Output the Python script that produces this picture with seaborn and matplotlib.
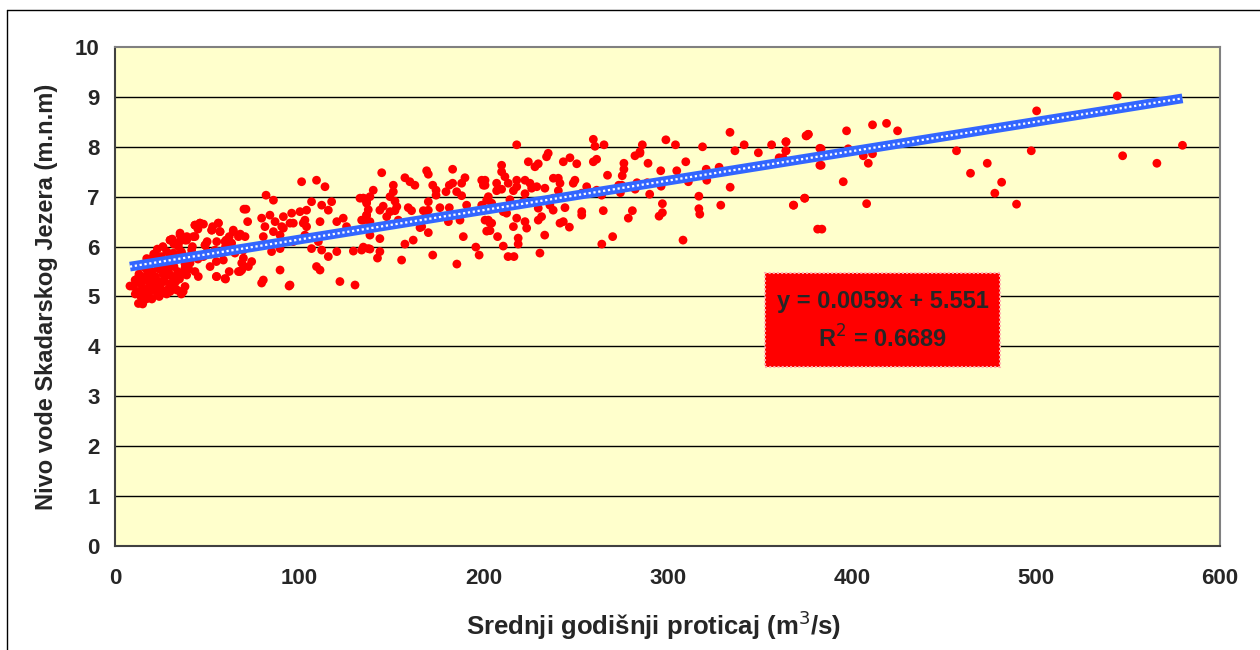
import numpy as np
import pandas as pd
import matplotlib.pyplot as plt
import seaborn as sns
from matplotlib.patches import Rectangle
from matplotlib.lines import Line2D

# Mean annual discharge (m3/s) and lake level (m.n.m)
protok = [
    8.1, 12.7, 15.4, 17.2, 13.6, 18.1, 17.2, 21.7, 19.9, 23.5, 25.3, 27.1, 29.9, 33.5, 35.3,
    29.0, 31.7, 29.9, 35.3, 38.0, 34.4, 38.9, 38.0, 40.7, 43.4, 45.2, 43.4, 46.1, 43.4, 48.9,
    48.0, 51.6, 55.2, 59.7, 58.8, 52.5, 56.1, 55.2, 59.7, 64.2, 63.3, 67.9, 68.8, 65.1, 54.3,
    36.2, 41.6, 27.1, 21.7, 10.9, 14.5, 18.1, 23.5, 32.6, 29.9,
    10, 12, 12, 14, 14, 15, 16, 16, 17, 18, 18, 19, 20, 20, 21, 22, 22, 23, 24, 24, 25, 25,
    26, 27, 27, 28, 28, 29, 30, 30, 31, 32, 32, 33, 34, 34, 35, 36, 37, 38, 39, 40, 19, 21,
    23, 26, 28, 31, 17, 13, 15, 11, 33, 35, 37, 29, 24, 20, 22,
    45, 48, 50, 52, 55, 57, 60, 62, 62, 65, 67, 68, 70, 60, 55, 50, 45, 42, 40, 38, 36, 53,
    101.3, 82.0, 86.0, 71.1, 72.0, 79.6, 84.1, 86.9, 91.4, 95.9, 100.4, 104.0, 81.4, 86.0,
    91.4, 96.8, 102.2, 43.4, 46.1, 56.1, 52.5, 57.0, 35.3, 29.9, 42.5, 64.2, 67.0, 60.3,
    48.9, 38.9,
    109.4, 114.0, 106.7, 112.2, 115.8, 117.6, 90.5, 95.0, 103.1, 104.0, 103.1, 111.3, 120.4,
    123.9, 125.7, 133.9, 134.8, 136.6, 136.6, 70.6, 80.5, 89.6, 69.7, 85.0, 89.6, 96.8,
    106.7, 110.4, 112.2, 115.8, 120.4, 129.4, 133.9, 137.5, 69.7, 74.2, 72.4, 68.8, 89.6,
    109.4, 111.3, 80.5, 79.6, 95.0, 122.1, 130.3, 94.5,
    144.8, 157.4, 160.1, 162.8, 169.2, 170.1, 183.3, 190.0, 188.2, 199.1, 200.0, 140.2,
    151.1, 151.1, 149.3, 172.5, 174.3, 174.3, 179.7, 181.5, 183.3, 185.5, 188.2, 133.0,
    134.8, 138.4, 136.6, 152.0, 153.0, 170.1, 170.1, 176.4, 181.5, 190.9, 199.1, 201.8,
    137.5, 143.8, 145.6, 149.3, 147.5, 152.0, 159.2, 161.0, 167.4, 136.6, 134.8, 138.4,
    153.8, 166.5, 169.2, 181.0, 187.3, 200.9, 203.6, 201.8, 165.6, 170.1, 138.4, 143.8,
    161.9, 157.4, 189.1, 134.8, 138.4, 143.8, 142.5, 155.6, 172.5, 185.6, 195.9, 197.7,
    218.1, 259.7, 260.6, 265.5, 235.2, 234.3, 247.0, 243.4, 250.7, 224.4, 229.8, 228.0,
    259.7, 261.5, 209.9, 209.9, 211.7, 200.9, 200.9, 207.2, 218.1, 222.6, 225.3, 238.0,
    240.7, 241.6, 248.8, 249.7, 267.4, 213.5, 218.1, 229.0, 226.2, 233.4, 207.2, 209.9,
    216.3, 222.6, 240.7, 256.1, 261.5, 264.2, 275.1, 202.7, 214.4, 221.7, 238.0, 253.4,
    204.5, 200.0, 210.8, 212.6, 229.8, 236.1, 237.9, 244.3, 253.4, 253.4, 265.1, 202.7,
    204.5, 218.1, 216.3, 222.6, 223.5, 229.8, 231.6, 241.6, 243.4, 246.7, 203.6, 207.7,
    218.9, 218.9, 233.3, 210.8, 230.7, 213.4, 216.6, 264.3, 270.2,
    333.9, 376.4, 375.2, 299.1, 286.3, 304.3, 319.0, 341.6, 356.5, 364.3, 364.3, 382.7,
    336.6, 349.3, 285.0, 285.0, 282.3, 276.3, 276.3, 289.4, 309.9, 362.7, 382.7, 275.4,
    296.3, 305.0, 321.0, 328.0, 273.5, 274.4, 283.4, 289.0, 282.4, 296.5, 311.3, 321.3,
    334.0, 290.3, 317.0, 328.9, 368.5, 374.5, 297.2, 317.0, 317.5, 297.2, 295.4, 280.9,
    278.7, 308.4, 383.8,
    544.2, 537.7, 500.4, 579.6, 547.1, 565.7, 456.9, 497.5, 464.5, 473.6, 481.4, 477.7,
    489.5, 397.2, 411.3, 418.9, 424.9, 375.5, 376.4, 364.3, 364.3, 383.4, 398.1, 406.3,
    411.3, 409.0, 383.4, 360.6, 395.4, 374.4, 368.3, 408.1, 381.5,
]
nivo = [
    5.21, 4.86, 4.93, 5.06, 5.29, 5.46, 5.76, 5.83, 5.40, 5.57, 5.29, 5.10, 5.10, 5.13, 5.10,
    5.63, 5.87, 6.13, 6.23, 6.13, 6.00, 5.43, 5.57, 5.67, 5.50, 5.40, 6.43, 6.47, 6.20, 6.03,
    5.80, 5.60, 5.40, 5.36, 5.73, 6.33, 6.47, 6.10, 6.10, 6.30, 6.07, 5.50, 5.67, 5.87, 5.93,
    5.87, 5.93, 5.40, 5.20, 5.33, 5.13, 5.16, 5.13, 5.36, 5.43,
    5.20, 5.10, 5.35, 5.00, 5.25, 4.85, 5.40, 5.15, 4.95, 5.30, 5.60, 5.10, 5.50, 4.95, 5.25,
    5.70, 5.40, 5.05, 5.55, 5.30, 5.80, 5.15, 5.45, 5.60, 5.30, 5.70, 5.05, 5.50, 5.85, 5.25,
    5.40, 6.05, 5.60, 5.30, 5.75, 5.50, 6.10, 5.90, 5.45, 5.65, 6.20, 5.55, 5.75, 5.85, 5.95,
    6.00, 5.90, 6.15, 5.55, 5.45, 5.60, 5.05, 5.15, 5.35, 5.10, 5.15, 5.00, 5.15, 5.25,
    6.35, 6.45, 6.10, 5.85, 5.70, 6.30, 6.00, 5.50, 6.20, 5.95, 5.50, 6.25, 6.75, 5.35, 5.40,
    5.90, 5.75, 6.00, 5.80, 5.20, 5.05, 6.40,
    7.30, 7.03, 6.93, 6.75, 6.50, 6.57, 6.63, 6.50, 6.60, 6.67, 6.70, 6.73, 6.40, 6.30,
    6.37, 6.47, 6.47, 6.43, 6.47, 6.47, 6.33, 6.30, 6.27, 6.13, 6.20, 6.33, 6.20, 6.13,
    6.03, 6.13,
    7.33, 7.20, 6.90, 6.83, 6.73, 6.90, 6.40, 6.47, 6.53, 6.40, 6.23, 6.50, 6.50,
    6.57, 6.40, 6.53, 6.97, 6.87, 6.63, 6.20, 6.20, 6.23, 5.93, 5.90, 5.96, 6.10,
    5.96, 6.10, 5.93, 5.80, 5.90, 5.91, 5.93, 5.96, 5.77, 5.70, 5.60, 5.53, 5.53,
    5.60, 5.53, 5.33, 5.27, 5.23, 5.30, 5.23, 5.21,
    7.48, 7.38, 7.30, 7.23, 7.52, 7.45, 7.55, 7.38, 7.27, 7.33, 7.23, 7.13,
    7.23, 7.10, 7.00, 7.23, 7.13, 7.03, 7.10, 7.23, 7.27, 7.10, 7.02, 6.97,
    6.97, 7.00, 6.90, 6.91, 6.80, 6.90, 6.73, 6.78, 6.78, 6.83, 6.83, 6.93,
    6.74, 6.73, 6.81, 6.70, 6.60, 6.72, 6.78, 6.72, 6.72, 6.63, 6.53, 6.50,
    6.53, 6.40, 6.57, 6.50, 6.53, 6.53, 6.47, 6.31, 6.38, 6.28, 6.23, 6.16,
    6.13, 6.05, 6.20, 5.99, 5.95, 5.90, 5.77, 5.73, 5.83, 5.65, 5.99, 5.83,
    8.04, 8.15, 8.01, 8.04, 7.87, 7.80, 7.78, 7.70, 7.66, 7.70, 7.66, 7.60,
    7.70, 7.75, 7.63, 7.50, 7.40, 7.33, 7.23, 7.27, 7.33, 7.33, 7.27, 7.37,
    7.37, 7.27, 7.27, 7.33, 7.43, 7.27, 7.20, 7.20, 7.17, 7.17, 7.12, 7.15,
    7.12, 7.06, 7.12, 7.20, 7.13, 7.03, 7.23, 7.00, 6.94, 6.90, 6.97, 7.07,
    6.87, 6.73, 6.70, 6.67, 6.77, 6.83, 6.73, 6.78, 6.70, 6.63, 6.72, 6.53,
    6.47, 6.57, 6.40, 6.50, 6.37, 6.53, 6.60, 6.47, 6.50, 6.39, 6.32, 6.20,
    6.17, 6.05, 6.23, 6.01, 5.87, 5.80, 5.80, 6.05, 6.20,
    8.29, 8.25, 8.22, 8.14, 8.04, 8.04, 8.00, 8.04, 8.04, 8.10, 7.92, 7.97,
    7.92, 7.88, 7.90, 7.87, 7.82, 7.67, 7.55, 7.67, 7.70, 7.78, 7.63, 7.42,
    7.52, 7.52, 7.55, 7.59, 7.23, 7.08, 7.28, 7.28, 7.15, 7.21, 7.30, 7.33,
    7.19, 7.05, 7.01, 6.83, 6.83, 6.97, 6.86, 6.76, 6.65, 6.68, 6.61, 6.72,
    6.57, 6.13, 6.35,
    9.02, 8.72, 8.72, 8.03, 7.82, 7.67, 7.92, 7.92, 7.47, 7.67, 7.29, 7.07,
    6.85, 8.32, 8.44, 8.47, 8.32, 8.22, 8.25, 8.10, 7.92, 7.96, 7.96, 7.82,
    7.86, 7.67, 7.63, 7.78, 7.30, 6.97, 6.83, 6.86, 6.35,
]

# Excel linear trendline shown on the chart
nagib = 0.0059
odsjecak = 5.551
r2 = 0.6689

df = pd.DataFrame({'Q': protok, 'H': nivo})

sns.set_style('white')
plt.rcParams['font.family'] = ['Liberation Sans', 'DejaVu Sans']

fig = plt.figure(figsize=(12.6, 6.5), dpi=100)
ax = fig.add_axes([0.0913, 0.16, 0.877, 0.7677])
ax.set_facecolor('#FFFFCC')

for yv in range(1, 10):
    ax.axhline(yv, color='black', lw=1.0, zorder=1)

sns.scatterplot(data=df, x='Q', y='H', color='#FF0000', s=40, edgecolor='none',
                linewidth=0, ax=ax, zorder=3)

# trendline: thick blue with a dotted white core
xl = np.array([df['Q'].min(), df['Q'].max()])
yl = nagib * xl + odsjecak
ax.plot(xl, yl, color='#3366FF', lw=7, solid_capstyle='butt', zorder=4)
ax.plot(xl, yl, color='white', lw=1.6, linestyle=(0, (1, 1.2)), zorder=5)

ax.set_xlim(0, 600)
ax.set_ylim(0, 10)
ax.set_xticks(range(0, 601, 100))
ax.set_yticks(range(0, 11))
ax.tick_params(axis='both', direction='out', length=6, width=1, color='#404040',
               labelsize=16)
ax.tick_params(axis='x', pad=10)
ax.tick_params(axis='y', pad=5)
for lab in ax.get_xticklabels() + ax.get_yticklabels():
    lab.set_fontweight('bold')
for sp in ax.spines.values():
    sp.set_color('#808080')
    sp.set_linewidth(1.5)
ax.spines['left'].set_color('#404040')
ax.spines['bottom'].set_color('#404040')

ax.set_xlabel('Srednji godišnji proticaj (m$^3$/s)', fontsize=18.5, fontweight='bold',
              labelpad=12)
ax.xaxis.set_label_coords(0.487, -0.125)
ax.set_ylabel('Nivo vode Skadarskog Jezera (m.n.m)', fontsize=17, fontweight='bold',
              labelpad=12)

# equation box
ax.add_patch(Rectangle((0.588, 0.359), 0.213, 0.188, transform=ax.transAxes,
                       facecolor='#FF0000', edgecolor='#FFB0B0', lw=1.5,
                       linestyle=(0, (1, 1)), zorder=6))
ax.text(0.6945, 0.489, f'y = {nagib}x + {odsjecak}', transform=ax.transAxes,
        ha='center', va='center', fontsize=17, fontweight='bold', zorder=7)
ax.text(0.6945, 0.415, f'R$^2$ = {r2}', transform=ax.transAxes,
        ha='center', va='center', fontsize=17, fontweight='bold', zorder=7)

# outer chart frame
fig.add_artist(Line2D([7 / 1260, 7 / 1260], [0, 1 - 10 / 650], color='black', lw=1))
fig.add_artist(Line2D([7 / 1260, 1], [1 - 10 / 650, 1 - 10 / 650], color='black', lw=1))

fig.savefig('out.png', dpi=100)
plt.close('all')
